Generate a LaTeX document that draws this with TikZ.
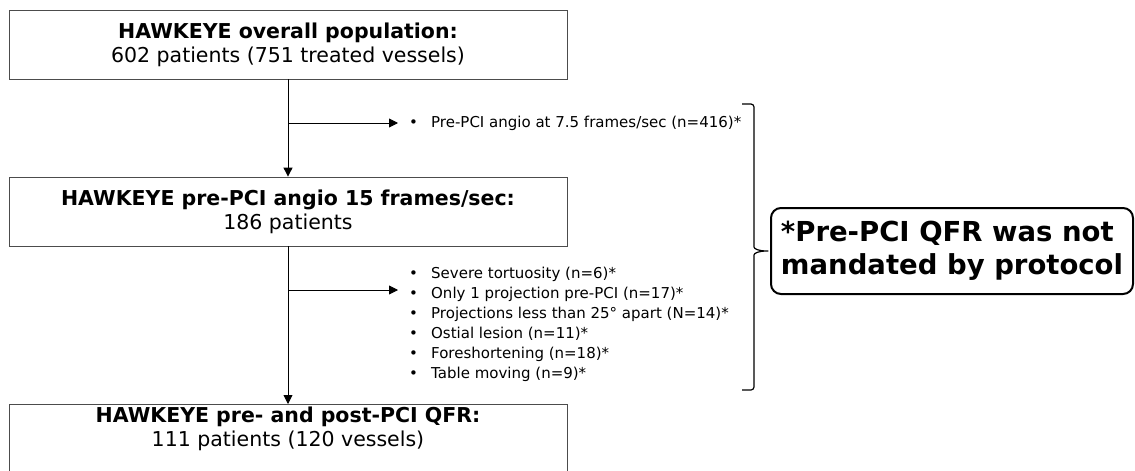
\documentclass[tikz,border=0pt]{standalone}
\usepackage{fontspec}
\setmainfont{DejaVu Sans}
\usepackage{tikz}
\usetikzlibrary{arrows.meta,positioning}

\newcommand{\itm}[1]{\makebox[22pt][l]{\textbullet}#1}

\begin{document}
\begin{tikzpicture}[x=1pt,y=-1pt,>={Triangle[length=9pt,width=9pt]}]
  \tikzstyle{stage}=[draw=black!70,line width=0.8pt,align=center,minimum width=558pt,minimum height=69pt,inner sep=3pt,font=\fontsize{20.5}{24}\selectfont]
  \tikzstyle{excl}=[align=left,anchor=west,inner xsep=11pt,inner ysep=0pt,font=\fontsize{15}{20}\selectfont]
  \tikzstyle{flow}=[->,line width=0.9pt]
  \tikzstyle{note}=[draw,line width=2pt,rounded corners=10pt,align=left,inner xsep=6pt,minimum width=362pt,minimum height=86pt,font=\fontsize{27.5}{33}\bfseries\selectfont]
  \useasboundingbox (0,0) rectangle (1135,471);
  % flow boxes
  \node[stage] (overall) at (288,44.5) {\textbf{HAWKEYE overall population:}\\602 patients (751 treated vessels)};
  \node[stage] (angio15) at (288,211.5) {\textbf{HAWKEYE pre-PCI angio 15 frames/sec:}\\186 patients};
  \node[stage,minimum height=0pt,text depth=45pt,anchor=north] (prepost) at (288,404) {\textbf{HAWKEYE pre- and post-PCI QFR:}\\111 patients (120 vessels)};
  % exclusions
  \node[excl] (excl1) at (398,123) {\itm{Pre-PCI angio at 7.5 frames/sec (n=416)*}};
  \node[excl] (excl2) at (398,324) {\itm{Severe tortuosity (n=6)*}\\
    \itm{Only 1 projection pre-PCI (n=17)*}\\
    \itm{Projections less than 25° apart (N=14)*}\\
    \itm{Ostial lesion (n=11)*}\\
    \itm{Foreshortening (n=18)*}\\
    \itm{Table moving (n=9)*}};
  \coordinate (split1) at (overall.south |- excl1.west);
  \coordinate (split2) at (288,290);
  \draw[flow] (overall) -- (angio15);
  \draw[flow] (angio15) -- (prepost);
  \draw[flow] (split1) -- (excl1.west);
  \draw[flow] (split2) -- (split2 -| excl2.west);
  % footnote
  \node[note] (protocol) at (952,251) {*Pre-PCI QFR was not\\mandated by protocol};
  \coordinate (braceTop) at (742,104);
  \coordinate (braceBot) at (742,390);
  \draw[line width=1.2pt,rounded corners=3pt] (braceTop) -- (754,104) -- (754,244)
    .. controls (754,249) and (759,251) .. (protocol.west)
    .. controls (759,251) and (754,253) .. (754,258) -- (754,390) -- (braceBot);
\end{tikzpicture}
\end{document}
